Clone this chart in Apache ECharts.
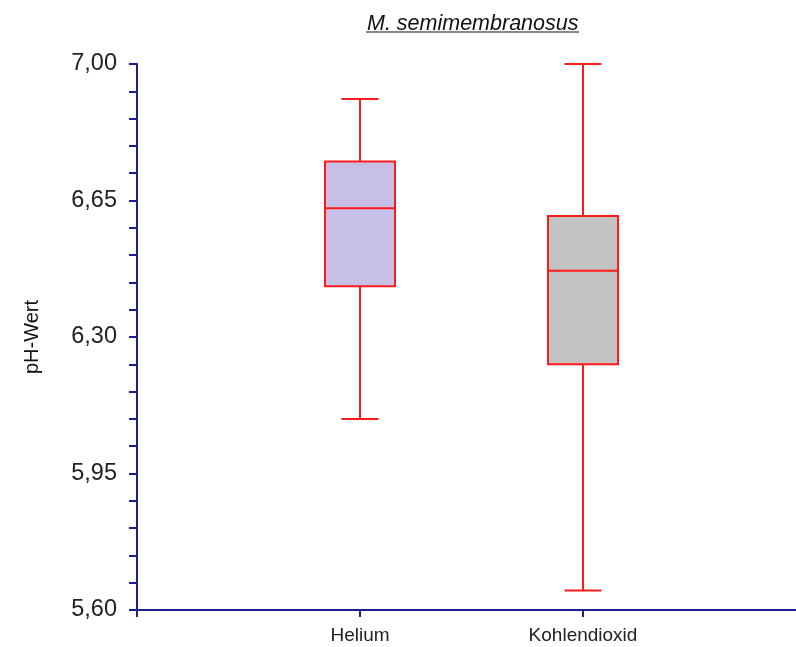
<!DOCTYPE html>
<html>
<head>
<meta charset="utf-8">
<script src="https://cdn.jsdelivr.net/npm/echarts@6/dist/echarts.min.js"></script>
<style>
html,body{margin:0;padding:0;background:#fff;overflow:hidden;}
#c{width:809px;height:647px;}
</style>
</head>
<body>
<div id="c"></div>
<script>
var categories = ['Helium', 'Kohlendioxid'];
var mins    = [6.09, 5.65];
var q1s     = [6.43, 6.23];
var medians = [6.63, 6.47];
var q3s     = [6.75, 6.61];
var maxs    = [6.91, 7.00];
var fills   = ['#c8bfe7', '#c3c3c3'];
var yTicks  = [5.60, 5.95, 6.30, 6.65, 7.00];

var axisCats = [''].concat(categories).concat(['']);
var data = categories.map(function (c, i) {
  return [i + 1, mins[i], q1s[i], medians[i], q3s[i], maxs[i]];
});

var chart = echarts.init(document.getElementById('c'));
var AXIS = '#1e1e90';
var RED = '#ff1a1a';

chart.setOption({
  animation: false,
  title: {
    text: 'M. semimembranosus',
    left: 362, top: 8,
    textStyle: { fontFamily: 'Liberation Sans', fontStyle: 'italic', fontWeight: 'normal', fontSize: 21.5, color: '#111' }
  },
  graphic: [{
    type: 'line', shape: { x1: 366, y1: 32, x2: 579, y2: 32 },
    style: { stroke: '#111', lineWidth: 1.2 }
  }],
  grid: { left: 137, right: 0, top: 64, bottom: 37 },
  xAxis: {
    type: 'category',
    data: axisCats,
    boundaryGap: false,
    axisLine: { lineStyle: { color: AXIS, width: 2 } },
    axisTick: { show: true, length: 7, lineStyle: { color: AXIS, width: 2 }, interval: 0 },
    axisLabel: { interval: 0, margin: 16, fontFamily: 'Liberation Sans', fontSize: 19, color: '#222' },
    splitLine: { show: false }
  },
  yAxis: {
    type: 'value',
    min: 5.6, max: 7.0, interval: 0.35,
    name: 'pH-Wert',
    nameLocation: 'middle',
    nameGap: 95,
    nameTextStyle: { fontFamily: 'Liberation Sans', fontSize: 20, color: '#111' },
    axisLine: { show: true, lineStyle: { color: AXIS, width: 2 } },
    axisTick: { show: true, length: 8, lineStyle: { color: AXIS, width: 2 } },
    minorTick: { show: true, splitNumber: 5, length: 8, lineStyle: { color: AXIS, width: 2 } },
    axisLabel: {
      margin: 20, fontFamily: 'Liberation Sans', fontSize: 23.5, color: '#222',
      formatter: function (v) {
        for (var i = 0; i < yTicks.length; i++) {
          if (Math.abs(yTicks[i] - v) < 1e-6) return yTicks[i].toFixed(2).replace('.', ',');
        }
        return '';
      }
    },
    splitLine: { show: false },
    minorSplitLine: { show: false }
  },
  series: [{
    type: 'custom',
    data: data,
    encode: { x: 0, y: [1, 2, 3, 4, 5] },
    renderItem: function (params, api) {
      var x = api.value(0);
      var pMin = api.coord([x, api.value(1)]);
      var pQ1 = api.coord([x, api.value(2)]);
      var pMed = api.coord([x, api.value(3)]);
      var pQ3 = api.coord([x, api.value(4)]);
      var pMax = api.coord([x, api.value(5)]);
      var cx = pMin[0];
      var bw = 35, cw = 18.5;
      var ls = { stroke: RED, lineWidth: 2 };
      return {
        type: 'group',
        children: [
          { type: 'line', shape: { x1: cx, y1: pMax[1], x2: cx, y2: pQ3[1] }, style: ls },
          { type: 'line', shape: { x1: cx, y1: pQ1[1], x2: cx, y2: pMin[1] }, style: ls },
          { type: 'line', shape: { x1: cx - cw, y1: pMax[1], x2: cx + cw, y2: pMax[1] }, style: ls },
          { type: 'line', shape: { x1: cx - cw, y1: pMin[1], x2: cx + cw, y2: pMin[1] }, style: ls },
          { type: 'rect', shape: { x: cx - bw, y: pQ3[1], width: 2 * bw, height: pQ1[1] - pQ3[1] },
            style: { fill: fills[params.dataIndex], stroke: RED, lineWidth: 2 } },
          { type: 'line', shape: { x1: cx - bw, y1: pMed[1], x2: cx + bw, y2: pMed[1] }, style: ls }
        ]
      };
    }
  }]
});
</script>
</body>
</html>
